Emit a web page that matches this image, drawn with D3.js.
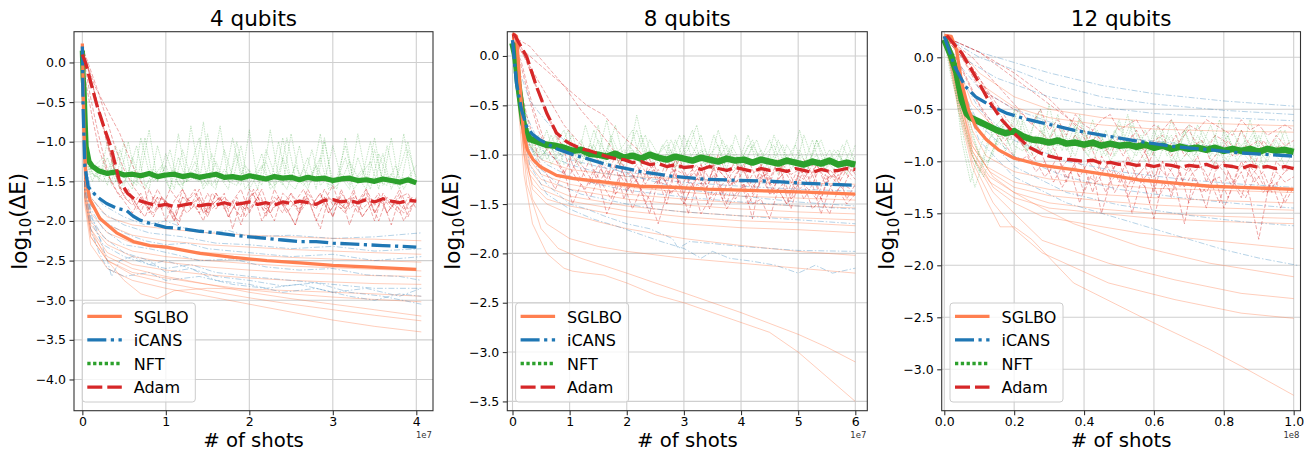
<!DOCTYPE html>
<html><head><meta charset="utf-8">
<script src="https://cdn.jsdelivr.net/npm/d3@7"></script>
<style>body{margin:0;background:#fff}svg{display:block}text{font-family:"DejaVu Sans",sans-serif}</style>
</head><body><svg id="c" width="1315" height="452"></svg>
<script>
// ---------------- DATA ----------------
const titles = ["4 qubits", "8 qubits", "12 qubits"];
const methods = ["SGLBO", "iCANS", "NFT", "Adam"];
const xTicks4 = [0, 1, 2, 3, 4];
const xTicks8 = [0, 1, 2, 3, 4, 5, 6];
const xTicks12 = [0, 0.2, 0.4, 0.6, 0.8, 1.0];
const yTicks4 = [0, -0.5, -1, -1.5, -2, -2.5, -3, -3.5, -4];
const yTicks8 = [0, -0.5, -1, -1.5, -2, -2.5, -3, -3.5];
const yTicks12 = [0, -0.5, -1, -1.5, -2, -2.5, -3];
const xOffsets = ["1e7", "1e7", "1e8"];

// shot grids (x in units of the offset) used by the noisy series; "b" grids sit half a step later
const grid4 = [0.2,0.3,0.4,0.5,0.6,0.7,0.8,0.9,1.0,1.1,1.2,1.3,1.4,1.5,1.6,1.7,1.8,1.9,2.0,2.1,2.2,2.3,2.4,2.5,2.6,2.7,2.8,2.9,3.0,3.1,3.2,3.3,3.4,3.5,3.6,3.7,3.8,3.9,4.0];
const grid4b = [0.25,0.35,0.45,0.55,0.65,0.75,0.85,0.95,1.05,1.15,1.25,1.35,1.45,1.55,1.65,1.75,1.85,1.95,2.05,2.15,2.25,2.35,2.45,2.55,2.65,2.75,2.85,2.95,3.05,3.15,3.25,3.35,3.45,3.55,3.65,3.75,3.85,3.95];
const grid8 = [0.3,0.45,0.6,0.75,0.9,1.05,1.2,1.35,1.5,1.65,1.8,1.95,2.1,2.25,2.4,2.55,2.7,2.85,3.0,3.15,3.3,3.45,3.6,3.75,3.9,4.05,4.2,4.35,4.5,4.65,4.8,4.95,5.1,5.25,5.4,5.55,5.7,5.85,6.0];
const grid8b = [0.375,0.525,0.675,0.825,0.975,1.125,1.275,1.425,1.575,1.725,1.875,2.025,2.175,2.325,2.475,2.625,2.775,2.925,3.075,3.225,3.375,3.525,3.675,3.825,3.975,4.125,4.275,4.425,4.575,4.725,4.875,5.025,5.175,5.325,5.475,5.625,5.775,5.925];
const grid12 = [0.05,0.075,0.1,0.125,0.15,0.175,0.2,0.225,0.25,0.275,0.3,0.325,0.35,0.375,0.4,0.425,0.45,0.475,0.5,0.525,0.55,0.575,0.6,0.625,0.65,0.675,0.7,0.725,0.75,0.775,0.8,0.825,0.85,0.875,0.9,0.925,0.95,0.975,1.0];
const grid12b = [0.0625,0.0875,0.1125,0.1375,0.1625,0.1875,0.2125,0.2375,0.2625,0.2875,0.3125,0.3375,0.3625,0.3875,0.4125,0.4375,0.4625,0.4875,0.5125,0.5375,0.5625,0.5875,0.6125,0.6375,0.6625,0.6875,0.7125,0.7375,0.7625,0.7875,0.8125,0.8375,0.8625,0.8875,0.9125,0.9375,0.9625,0.9875];

// ---- 4 qubits: mean curves ----
const sglbo4Mean = [[0,0.24],[0.01,-0.3],[0.02,-0.89],[0.044,-1.48],[0.09,-1.73],[0.21,-1.97],[0.41,-2.15],[0.61,-2.26],[0.81,-2.31],[1.01,-2.33],[1.41,-2.41],[1.81,-2.46],[2.21,-2.50],[2.61,-2.53],[3.0,-2.56],[3.4,-2.58],[4.0,-2.61]];
const icans4Mean = [[0,0.2],[0.01,-0.6],[0.03,-1.31],[0.07,-1.57],[0.17,-1.69],[0.29,-1.78],[0.41,-1.84],[0.53,-1.87],[0.61,-1.94],[0.69,-1.99],[0.81,-2.03],[1.0,-2.08],[1.2,-2.1],[1.41,-2.13],[1.6,-2.15],[1.81,-2.18],[2.0,-2.2],[2.2,-2.22],[2.4,-2.24],[2.6,-2.26],[2.8,-2.26],[3.0,-2.28],[3.2,-2.29],[3.4,-2.30],[3.6,-2.31],[3.8,-2.32],[4.0,-2.33]];
const nft4Mean = {h:[[0,0.15],[0.01,-0.2],[0.02,-0.34],[0.035,-0.8],[0.045,-1.06],[0.08,-1.25],[0.12,-1.31],[0.16,-1.34]],
  t:[-1.37,-1.40,-1.38,-1.42,-1.41,-1.43,-1.40,-1.44,-1.42,-1.41,-1.44,-1.42,-1.45,-1.43,-1.41,-1.45,-1.44,-1.46,-1.43,-1.45,-1.47,-1.44,-1.46,-1.45,-1.48,-1.45,-1.47,-1.46,-1.49,-1.47,-1.46,-1.49,-1.48,-1.50,-1.47,-1.49,-1.51,-1.48,-1.52]};
const adam4Mean = {h:[[0,0.1],[0.04,-0.01],[0.1,-0.25],[0.18,-0.56],[0.26,-0.82],[0.34,-1.06],[0.44,-1.48],[0.54,-1.65],[0.62,-1.72],[0.7,-1.75]],
  t:[-1.78,-1.81,-1.79,-1.82,-1.80,-1.78,-1.81,-1.79,-1.80,-1.77,-1.80,-1.78,-1.76,-1.79,-1.77,-1.80,-1.76,-1.78,-1.75,-1.77,-1.79,-1.74,-1.73,-1.76,-1.74,-1.77,-1.73,-1.76,-1.72,-1.75,-1.77,-1.74,-1.75]};
// ---- 4 qubits: individual runs ----
const sglbo4Runs = [
  [[0,0.2],[0.03,-1.3],[0.1,-1.7],[0.3,-1.95],[0.6,-2.05],[1.0,-2.1],[1.5,-2.15],[2.0,-2.18],[2.5,-2.2],[3.0,-2.22],[3.5,-2.23],[4.06,-2.25]],
  [[0,0.2],[0.03,-1.4],[0.1,-1.8],[0.3,-2.05],[0.6,-2.18],[1.0,-2.25],[1.5,-2.3],[2.0,-2.33],[2.5,-2.36],[3.0,-2.38],[3.5,-2.4],[4.06,-2.42]],
  [[0,0.2],[0.03,-1.5],[0.1,-1.9],[0.3,-2.15],[0.6,-2.28],[1.0,-2.35],[1.5,-2.4],[2.0,-2.43],[2.5,-2.46],[3.0,-2.48],[3.5,-2.5],[4.06,-2.52]],
  [[0,0.2],[0.03,-1.6],[0.1,-2.0],[0.3,-2.25],[0.6,-2.38],[1.0,-2.45],[1.5,-2.5],[2.0,-2.54],[2.5,-2.57],[3.0,-2.59],[3.5,-2.61],[4.06,-2.63]],
  [[0,0.2],[0.03,-1.55],[0.1,-2.05],[0.3,-2.3],[0.6,-2.45],[1.0,-2.52],[1.5,-2.58],[2.0,-2.62],[2.5,-2.65],[3.0,-2.67],[3.5,-2.69],[4.06,-2.7]],
  [[0,0.2],[0.03,-1.7],[0.1,-2.1],[0.3,-2.4],[0.6,-2.55],[1.0,-2.62],[1.5,-2.68],[2.0,-2.72],[2.5,-2.75],[3.0,-2.77],[3.5,-2.79],[4.06,-2.8]],
  [[0,0.2],[0.03,-1.6],[0.1,-2.1],[0.3,-2.5],[0.5,-2.75],[0.7,-2.92],[0.9,-2.98],[1.1,-2.88],[1.5,-2.85],[2.0,-2.86],[2.5,-2.88],[3.0,-2.9],[3.5,-2.92],[4.06,-2.95]],
  [[0,0.2],[0.03,-1.7],[0.1,-2.2],[0.3,-2.5],[0.6,-2.65],[1.0,-2.72],[1.5,-2.8],[2.0,-2.87],[2.5,-2.92],[3.0,-2.96],[3.5,-2.99],[4.06,-3.02]],
  [[0,0.2],[0.03,-1.65],[0.1,-2.15],[0.3,-2.45],[0.6,-2.6],[1.0,-2.7],[1.5,-2.8],[2.0,-2.9],[2.5,-2.98],[3.0,-3.05],[3.5,-3.12],[4.06,-3.2]],
  [[0,0.2],[0.03,-1.75],[0.1,-2.2],[0.3,-2.5],[0.6,-2.68],[1.0,-2.78],[1.5,-2.88],[2.0,-2.97],[2.5,-3.05],[3.0,-3.12],[3.5,-3.19],[4.06,-3.26]],
  [[0,0.2],[0.03,-1.8],[0.1,-2.3],[0.3,-2.6],[0.6,-2.75],[1.0,-2.85],[1.5,-2.95],[2.0,-3.05],[2.5,-3.15],[3.0,-3.25],[3.5,-3.33],[4.06,-3.4]]
];
const icans4Runs = [
  [[0,0.1],[0.03,-1.2],[0.1,-1.6],[0.25,-1.8],[0.5,-1.95],[0.75,-2.05],[1.0,-2.0],[1.25,-2.1],[1.5,-2.15],[1.75,-2.12],[2.0,-2.2],[2.5,-2.18],[3.0,-2.22],[3.5,-2.2],[4.06,-2.15]],
  [[0,0.1],[0.03,-1.4],[0.1,-1.8],[0.25,-2.0],[0.5,-2.15],[0.75,-2.25],[1.0,-2.3],[1.25,-2.28],[1.5,-2.35],[2.0,-2.4],[2.5,-2.45],[3.0,-2.42],[3.5,-2.5],[4.06,-2.45]],
  [[0,0.1],[0.03,-1.5],[0.1,-1.9],[0.2,-2.2],[0.3,-2.5],[0.35,-2.7],[0.45,-2.5],[0.6,-2.45],[0.8,-2.55],[1.0,-2.6],[1.3,-2.55],[1.6,-2.65],[2.0,-2.7],[2.5,-2.75],[3.0,-2.8],[3.5,-2.85],[4.06,-2.85]],
  [[0,0.1],[0.03,-1.6],[0.1,-2.0],[0.25,-2.3],[0.5,-2.45],[0.8,-2.55],[1.0,-2.5],[1.3,-2.6],[1.6,-2.7],[2.0,-2.75],[2.4,-2.82],[2.8,-2.78],[3.2,-2.9],[3.6,-2.95],[4.06,-3.05]],
  [[0,0.1],[0.03,-1.4],[0.1,-1.85],[0.25,-2.1],[0.5,-2.3],[0.8,-2.35],[1.1,-2.42],[1.4,-2.5],[1.8,-2.48],[2.2,-2.58],[2.6,-2.62],[3.0,-2.6],[3.4,-2.68],[3.8,-2.7],[4.06,-2.75]],
  [[0,0.1],[0.03,-1.5],[0.1,-1.95],[0.25,-2.2],[0.5,-2.4],[0.8,-2.5],[1.0,-2.65],[1.3,-2.6],[1.6,-2.75],[2.0,-2.8],[2.4,-2.9],[2.8,-2.85],[3.2,-2.95],[3.5,-3.0],[3.8,-2.92],[4.06,-2.95]],
  [[0,0.1],[0.03,-1.3],[0.1,-1.7],[0.25,-1.9],[0.5,-2.05],[0.8,-2.15],[1.2,-2.2],[1.6,-2.28],[2.0,-2.3],[2.5,-2.35],[3.0,-2.32],[3.5,-2.38],[4.06,-2.35]],
  [[0,0.1],[0.03,-1.7],[0.1,-2.1],[0.2,-2.4],[0.3,-2.6],[0.5,-2.7],[0.8,-2.65],[1.0,-2.75],[1.4,-2.7],[1.8,-2.8],[2.2,-2.85],[2.6,-2.8],[3.0,-2.9],[3.4,-2.85],[3.8,-2.95],[4.06,-2.85]]
];
const nft4Runs = [
  {h:[[0,0.2],[0.02,-0.5],[0.05,-1.2],[0.1,-1.4]], t:[-1.45,-1.2,-1.5,-1.0,-1.55,-1.4,-0.85,-1.5,-1.3,-1.6,-1.1,-1.45,-1.5,-0.9,-1.55,-1.35,-1.5,-1.05,-1.6,-1.4,-1.25,-1.55,-0.95,-1.5,-1.45,-1.2,-1.6,-1.0,-1.5,-1.4,-1.55,-0.9,-1.45,-1.5,-1.15,-1.6,-1.35,-1.0,-1.5]},
  {h:[[0,0.1],[0.02,-0.7],[0.06,-1.3],[0.12,-1.5]], t:[-1.3,-1.55,-1.05,-1.45,-1.6,-0.95,-1.4,-1.5,-1.15,-1.45,-1.6,-0.8,-1.4,-1.55,-1.25,-1.5,-0.95,-1.45,-1.35,-1.6,-1.1,-1.4,-1.55,-0.9,-1.45,-1.6,-1.3,-1.5,-1.05,-1.45,-1.6,-1.2,-1.5,-0.95,-1.55,-1.4,-1.6,-1.1,-1.45]},
  {h:[[0,0.2],[0.03,-0.9],[0.08,-1.35],[0.14,-1.3]], t:[-1.5,-1.0,-1.45,-1.55,-1.2,-1.5,-1.6,-1.05,-1.45,-1.35,-1.55,-1.3,-0.95,-1.5,-1.6,-1.1,-1.45,-1.55,-0.85,-1.5,-1.45,-1.6,-1.2,-1.5,-1.05,-1.55,-1.45,-0.95,-1.6,-1.5,-1.25,-1.45,-1.6,-1.1,-1.5,-0.95,-1.55,-1.45,-1.3]},
  {b:1, h:[[0,0.2],[0.03,-1.0],[0.08,-1.3],[0.15,-1.45]], t:[-1.35,-1.5,-1.1,-1.45,-1.55,-0.95,-1.5,-1.4,-1.6,-1.2,-1.5,-1.45,-0.75,-1.55,-1.4,-1.5,-1.15,-1.6,-1.45,-1.3,-1.55,-1.0,-1.5,-1.6,-1.35,-1.45,-0.9,-1.55,-1.5,-1.2,-1.6,-1.45,-1.0,-1.5,-1.55,-1.3,-1.6,-1.4]},
  {b:1, h:[[0,0.1],[0.02,-0.6],[0.06,-1.2],[0.12,-1.4]], t:[-1.5,-1.25,-1.6,-1.4,-1.05,-1.55,-1.45,-1.3,-1.6,-0.9,-1.5,-1.35,-1.55,-1.15,-1.45,-1.6,-1.0,-1.5,-1.4,-1.55,-0.85,-1.45,-1.6,-1.3,-1.5,-1.1,-1.55,-1.45,-1.6,-0.95,-1.5,-1.4,-1.25,-1.6,-1.05,-1.5,-1.45,-1.55]},
  {b:1, h:[[0,0.2],[0.04,-1.1],[0.1,-1.35]], t:[-1.2,-1.55,-1.45,-1.0,-1.5,-1.6,-1.35,-1.45,-1.1,-1.55,-1.5,-1.25,-1.6,-1.4,-0.8,-1.5,-1.55,-1.3,-1.45,-1.15,-1.6,-1.5,-0.95,-1.45,-1.55,-1.4,-1.2,-1.6,-1.45,-1.05,-1.5,-1.35,-1.6,-1.15,-1.45,-1.55,-0.9,-1.5]}
];
const adam4Runs = [
  {h:[[0,0.2],[0.1,-0.2],[0.2,-0.6],[0.3,-1.0],[0.4,-1.4],[0.5,-1.7]], t:[-1.8,-1.65,-1.9,-1.7,-2.0,-1.75,-1.6,-1.85,-1.7,-1.95,-1.65,-1.8,-1.75,-2.05,-1.7,-1.6,-1.85,-1.75,-1.9,-1.65,-1.8,-1.7,-2.0,-1.75,-1.55,-1.85,-1.7,-1.9,-1.6,-1.8,-1.75,-2.05,-1.7,-1.65,-1.85]},
  {h:[[0,0.15],[0.08,-0.1],[0.15,-0.4],[0.25,-0.8],[0.35,-1.2],[0.45,-1.6],[0.55,-1.75]], t:[-1.7,-1.9,-1.6,-1.85,-1.75,-2.0,-1.7,-1.8,-1.6,-1.9,-1.8,-1.65,-2.1,-1.75,-1.85,-1.7,-1.95,-1.6,-1.8,-1.75,-1.9,-1.65,-1.8,-1.7,-1.95,-1.6,-1.85,-1.75,-1.7,-2.0,-1.65,-1.8,-1.9,-1.7,-1.75]},
  {h:[[0,0.1],[0.05,0.0],[0.15,-0.3],[0.3,-0.6],[0.45,-0.9],[0.6,-1.3],[0.75,-1.6]], t:[-1.85,-1.7,-1.75,-1.95,-1.6,-1.8,-1.7,-1.9,-1.65,-1.85,-1.75,-1.6,-1.9,-1.7,-1.8,-2.0,-1.65,-1.75,-1.85,-1.6,-1.8,-1.7,-1.95,-1.65,-1.8,-1.75,-1.6,-1.9,-1.7,-1.85,-1.65,-1.95,-1.7]},
  {h:[[0,0.05],[0.05,-0.3],[0.12,-0.7],[0.2,-1.1],[0.3,-1.4],[0.4,-1.6]], t:[-1.75,-1.9,-1.7,-1.85,-1.6,-1.8,-2.0,-1.7,-1.75,-1.9,-1.65,-1.85,-1.7,-1.8,-1.95,-1.6,-1.75,-1.9,-1.7,-1.8,-1.65,-1.9,-1.75,-1.85,-1.6,-1.8,-1.7,-2.05,-1.75,-1.65,-1.9,-1.7,-1.8,-1.6,-1.85,-1.75]},
  {b:1, h:[[0,0.2],[0.06,-0.05],[0.14,-0.35],[0.22,-0.7],[0.3,-1.05],[0.38,-1.35],[0.46,-1.6]], t:[-1.65,-1.85,-1.75,-1.95,-1.7,-1.8,-2.05,-1.75,-1.6,-1.9,-1.8,-1.7,-1.95,-1.75,-1.85,-1.65,-2.0,-1.8,-1.7,-1.9,-1.75,-1.6,-1.85,-2.1,-1.7,-1.8,-1.9,-1.65,-1.85,-1.75,-2.0,-1.7,-1.8,-1.9,-1.7]},
  {b:1, h:[[0,0.15],[0.05,-0.15],[0.1,-0.45],[0.18,-0.85],[0.26,-1.2],[0.34,-1.5]], t:[-1.7,-1.6,-1.8,-1.95,-1.7,-1.85,-1.6,-1.75,-1.9,-1.8,-2.0,-1.65,-1.75,-1.85,-1.7,-1.95,-1.8,-1.6,-1.9,-1.75,-1.85,-2.05,-1.7,-1.8,-1.65,-1.9,-1.75,-1.85,-1.6,-1.95,-1.8,-1.7,-1.9,-1.75,-2.0,-1.8]},
  {b:1, h:[[0,0.2],[0.1,-0.1],[0.2,-0.4],[0.3,-0.75],[0.4,-1.1],[0.5,-1.35],[0.6,-1.55],[0.7,-1.7]], t:[-1.8,-1.9,-1.7,-1.85,-2.0,-1.75,-1.65,-1.9,-1.8,-1.7,-1.95,-1.75,-1.85,-1.6,-1.8,-1.9,-1.7,-1.85,-2.05,-1.75,-1.8,-1.65,-1.9,-1.75,-1.85,-1.7,-1.95,-1.8,-1.65,-1.9,-1.75,-1.85,-1.7]}
];

// ---- 8 qubits: mean curves ----
const sglbo8Mean = [[0,0.23],[0.07,0.2],[0.13,-0.28],[0.19,-0.78],[0.26,-0.95],[0.36,-1.05],[0.48,-1.12],[0.77,-1.21],[1.06,-1.24],[1.65,-1.28],[2.23,-1.32],[2.81,-1.33],[3.4,-1.35],[3.98,-1.36],[4.56,-1.37],[5.14,-1.38],[6.0,-1.40]];
const icans8Mean = [[0,0.16],[0.07,-0.28],[0.16,-0.55],[0.25,-0.72],[0.36,-0.80],[0.48,-0.85],[0.77,-0.94],[1.06,-1.0],[1.36,-1.05],[1.65,-1.10],[2.23,-1.17],[2.81,-1.22],[3.4,-1.25],[3.98,-1.26],[4.56,-1.27],[5.14,-1.29],[6.0,-1.31]];
const nft8Mean = {h:[[0,0.13],[0.05,0.0],[0.1,-0.28],[0.15,-0.5],[0.19,-0.68],[0.24,-0.78]],
  t:[-0.84,-0.87,-0.9,-0.91,-0.93,-0.96,-0.95,-0.99,-1.0,-1.02,-0.99,-1.03,-1.01,-1.04,-1.0,-1.03,-1.05,-1.02,-1.04,-1.06,-1.03,-1.05,-1.07,-1.04,-1.06,-1.05,-1.08,-1.05,-1.07,-1.09,-1.06,-1.08,-1.1,-1.07,-1.09,-1.06,-1.1,-1.08,-1.1]};
const adam8Mean = {h:[[0,0.22],[0.04,0.21],[0.25,-0.01],[0.42,-0.31],[0.6,-0.58],[0.77,-0.78],[0.95,-0.87]],
  t:[-0.9,-0.94,-0.96,-0.99,-1.02,-1.04,-1.05,-1.08,-1.07,-1.1,-1.09,-1.12,-1.1,-1.13,-1.12,-1.15,-1.12,-1.14,-1.16,-1.13,-1.15,-1.17,-1.14,-1.16,-1.15,-1.17,-1.14,-1.16,-1.18,-1.15,-1.17,-1.16,-1.14,-1.15]};
// ---- 8 qubits: individual runs ----
const sglbo8Runs = [
  [[0,0.22],[0.1,0.0],[0.2,-0.7],[0.3,-1.0],[0.5,-1.15],[1.0,-1.25],[2.0,-1.33],[3.0,-1.38],[4.0,-1.42],[5.0,-1.44],[6.0,-1.46]],
  [[0,0.22],[0.1,-0.1],[0.2,-0.8],[0.3,-1.05],[0.5,-1.2],[1.0,-1.3],[2.0,-1.4],[3.0,-1.45],[4.0,-1.49],[5.0,-1.52],[6.0,-1.54]],
  [[0,0.22],[0.1,-0.1],[0.2,-0.85],[0.3,-1.1],[0.5,-1.25],[1.0,-1.35],[2.0,-1.45],[3.0,-1.51],[4.0,-1.55],[5.0,-1.58],[6.0,-1.6]],
  [[0,0.22],[0.1,-0.15],[0.2,-0.9],[0.3,-1.15],[0.5,-1.3],[1.0,-1.42],[2.0,-1.52],[3.0,-1.58],[4.0,-1.62],[5.0,-1.64],[6.0,-1.66]],
  [[0,0.22],[0.1,-0.15],[0.2,-0.95],[0.3,-1.2],[0.5,-1.35],[1.0,-1.47],[2.0,-1.57],[3.0,-1.63],[4.0,-1.67],[5.0,-1.69],[6.0,-1.72]],
  [[0,0.22],[0.1,-0.2],[0.2,-1.0],[0.35,-1.3],[0.6,-1.45],[1.0,-1.52],[2.0,-1.63],[3.0,-1.7],[4.0,-1.74],[5.0,-1.76],[6.0,-1.79]],
  [[0,0.22],[0.1,-0.2],[0.2,-0.9],[0.35,-1.35],[0.6,-1.5],[1.0,-1.6],[1.5,-1.68],[2.0,-1.75],[3.0,-1.85],[4.0,-1.92],[5.0,-1.98],[6.0,-2.02]],
  [[0,0.22],[0.1,-0.3],[0.2,-1.0],[0.35,-1.45],[0.6,-1.7],[1.0,-1.85],[1.5,-1.93],[2.0,-1.98],[3.0,-2.05],[4.0,-2.1],[5.0,-2.15],[6.0,-2.2]],
  [[0,0.22],[0.1,-0.4],[0.25,-1.3],[0.5,-1.75],[0.8,-1.95],[1.2,-2.05],[2.0,-2.2],[3.0,-2.4],[4.0,-2.6],[5.0,-2.82],[5.5,-2.95],[6.0,-3.1]],
  [[0,0.22],[0.1,-0.5],[0.2,-1.2],[0.35,-1.7],[0.6,-2.0],[0.9,-2.15],[1.05,-2.18],[1.3,-2.2],[1.6,-2.22],[2.0,-2.3],[2.5,-2.42],[3.0,-2.5],[3.5,-2.6],[4.0,-2.7],[4.5,-2.8],[5.0,-3.0],[5.5,-3.25],[6.0,-3.5]],
  [[0,0.2],[0.15,-0.4],[0.3,-0.9],[0.5,-1.05],[1.0,-1.15],[2.0,-1.22],[4.0,-1.27],[6.0,-1.3]]
];
const icans8Runs = [
  [[0,0.15],[0.1,-0.3],[0.2,-0.6],[0.35,-0.85],[0.6,-1.0],[1.0,-1.1],[1.5,-1.18],[2.0,-1.22],[3.0,-1.28],[4.0,-1.32],[5.0,-1.35],[6.0,-1.37]],
  [[0,0.1],[0.1,-0.35],[0.2,-0.7],[0.35,-0.95],[0.6,-1.1],[1.0,-1.22],[1.5,-1.3],[2.0,-1.36],[3.0,-1.43],[4.0,-1.48],[5.0,-1.52],[6.0,-1.55]],
  [[0,0.1],[0.1,-0.4],[0.25,-0.85],[0.5,-1.15],[0.8,-1.3],[1.2,-1.4],[1.6,-1.45],[2.0,-1.5],[2.5,-1.55],[3.0,-1.58],[4.0,-1.62],[5.0,-1.66],[6.0,-1.7]],
  [[0,0.1],[0.1,-0.4],[0.3,-1.0],[0.6,-1.3],[1.0,-1.5],[1.3,-1.55],[1.6,-1.62],[2.0,-1.7],[2.4,-1.75],[2.8,-1.85],[2.9,-1.95],[3.1,-1.88],[3.5,-1.9],[4.0,-1.93],[4.5,-1.95],[5.0,-1.97],[6.0,-1.98]],
  [[0,0.1],[0.1,-0.45],[0.3,-1.1],[0.6,-1.4],[1.0,-1.55],[1.4,-1.65],[1.8,-1.72],[2.2,-1.8],[2.6,-1.88],[3.0,-1.95],[3.3,-2.05],[3.5,-1.98],[3.8,-2.05],[4.2,-2.08],[4.6,-2.12],[5.0,-2.2],[5.3,-2.12],[5.6,-2.2],[6.0,-2.15]],
  [[0,0.15],[0.1,-0.25],[0.2,-0.55],[0.4,-0.8],[0.7,-0.95],[1.0,-1.05],[1.5,-1.12],[2.0,-1.18],[3.0,-1.24],[4.0,-1.28],[5.0,-1.3],[6.0,-1.32]],
  [[0,0.1],[0.15,-0.2],[0.3,-0.45],[0.5,-0.6],[0.8,-0.8],[1.2,-1.0],[2.0,-1.2],[3.0,-1.35],[4.0,-1.42],[5.0,-1.48],[6.0,-1.52]]
];
const nft8Runs = [
  {h:[[0,0.15],[0.1,-0.2],[0.2,-0.6]], t:[-0.95,-0.8,-1.05,-0.9,-0.75,-1.0,-0.95,-1.1,-0.85,-1.0,-0.7,-1.05,-0.95,-1.1,-0.85,-1.0,-0.9,-1.15,-0.8,-1.05,-0.95,-1.1,-0.75,-1.05,-1.0,-1.15,-0.9,-1.05,-0.85,-1.1,-1.0,-1.15,-0.8,-1.05,-1.1,-0.95,-1.15,-0.85,-1.1]},
  {h:[[0,0.1],[0.1,-0.3],[0.2,-0.7]], t:[-0.85,-1.0,-0.75,-1.05,-0.95,-0.8,-1.1,-0.9,-1.0,-0.65,-1.05,-0.95,-1.1,-0.8,-1.05,-1.0,-0.85,-1.1,-0.95,-0.75,-1.1,-1.0,-0.9,-1.15,-0.8,-1.05,-1.1,-0.95,-1.15,-0.85,-1.05,-0.9,-1.15,-1.0,-0.85,-1.1,-1.0,-1.15,-0.9]},
  {h:[[0,0.15],[0.1,-0.25],[0.2,-0.65]], t:[-0.9,-1.05,-0.95,-0.8,-1.1,-1.0,-0.85,-1.05,-0.7,-1.1,-1.0,-0.9,-0.75,-1.1,-0.95,-1.05,-1.15,-0.85,-1.05,-1.0,-0.8,-1.1,-1.05,-0.9,-1.15,-1.0,-0.85,-1.1,-1.0,-1.2,-0.9,-1.05,-1.1,-0.85,-1.15,-1.05,-0.95,-1.2,-1.0]},
  {b:1, h:[[0,0.1],[0.1,-0.35],[0.25,-0.75]], t:[-0.9,-1.05,-0.8,-1.0,-0.95,-1.1,-0.7,-1.0,-1.05,-0.85,-1.1,-0.95,-0.75,-1.05,-1.0,-1.1,-0.85,-1.05,-0.95,-0.7,-1.1,-1.0,-1.15,-0.9,-1.05,-0.8,-1.1,-1.0,-0.9,-1.15,-1.05,-0.75,-1.1,-1.0,-1.15,-0.95,-1.05,-1.1]},
  {b:1, h:[[0,0.15],[0.12,-0.3],[0.28,-0.7]], t:[-1.0,-0.85,-1.1,-0.95,-0.75,-1.05,-1.0,-0.9,-1.1,-0.8,-1.0,-1.05,-0.6,-1.0,-1.1,-0.9,-1.05,-0.8,-1.1,-1.0,-0.95,-1.15,-0.85,-1.05,-1.1,-0.9,-1.0,-1.15,-0.8,-1.05,-1.1,-0.95,-1.15,-0.85,-1.05,-1.15,-0.9,-1.1]},
  {b:1, h:[[0,0.1],[0.08,-0.4],[0.2,-0.8]], t:[-0.8,-1.0,-0.9,-1.1,-0.85,-0.95,-1.05,-0.75,-1.0,-0.95,-1.1,-0.9,-1.0,-0.8,-1.1,-1.05,-0.95,-1.15,-0.85,-1.0,-1.1,-0.8,-1.05,-0.95,-1.15,-1.0,-0.85,-1.1,-1.05,-0.9,-1.15,-1.0,-1.1,-0.85,-1.15,-1.05,-1.1,-0.95]}
];
const adam8Runs = [
  {h:[[0,0.2],[0.2,0.05],[0.4,-0.3],[0.6,-0.6],[0.8,-0.85],[1.0,-1.0]], t:[-1.1,-1.25,-1.05,-1.3,-1.15,-1.4,-1.1,-1.2,-1.35,-1.05,-1.25,-1.5,-1.15,-1.2,-1.3,-1.1,-1.45,-1.15,-1.25,-1.05,-1.35,-1.2,-1.1,-1.4,-1.25,-1.15,-1.3,-1.05,-1.2,-1.45,-1.15,-1.25,-1.1,-1.2]},
  {h:[[0,0.15],[0.1,0.1],[0.3,-0.1],[0.6,-0.4],[0.9,-0.7],[1.2,-0.9],[1.5,-1.05]], t:[-1.3,-1.1,-1.45,-1.2,-1.35,-1.6,-1.25,-1.4,-1.15,-1.5,-1.3,-1.2,-1.55,-1.35,-1.25,-1.45,-1.3,-1.65,-1.2,-1.4,-1.35,-1.5,-1.25,-1.45,-1.3,-1.6,-1.35,-1.2,-1.45,-1.3]},
  {h:[[0,0.2],[0.15,-0.1],[0.3,-0.45],[0.45,-0.75],[0.6,-0.95]], t:[-1.05,-1.2,-1.0,-1.15,-1.3,-1.1,-1.25,-1.0,-1.2,-1.4,-1.1,-1.25,-1.15,-1.3,-1.05,-1.2,-1.35,-1.1,-1.25,-1.0,-1.2,-1.3,-1.15,-1.4,-1.1,-1.25,-1.05,-1.2,-1.35,-1.15,-1.3,-1.1,-1.2,-1.25,-1.05,-1.2]},
  {h:[[0,0.15],[0.3,0.0],[0.7,-0.2],[1.0,-0.35],[1.3,-0.5],[1.6,-0.6],[1.9,-0.8],[2.2,-0.95]], t:[-1.1,-1.3,-1.05,-1.2,-1.4,-1.15,-1.3,-1.0,-1.25,-1.5,-1.2,-1.1,-1.35,-1.15,-1.3,-1.05,-1.4,-1.2,-1.25,-1.1,-1.45,-1.2,-1.3,-1.15,-1.25]},
  {h:[[0,0.1],[0.1,-0.2],[0.25,-0.6],[0.4,-0.9]], t:[-1.05,-1.2,-1.35,-1.15,-1.5,-1.3,-1.45,-1.25,-1.6,-1.4,-1.3,-1.55,-1.35,-1.45,-1.7,-1.4,-1.35,-1.5,-1.3,-1.6,-1.45,-1.35,-1.55,-1.4,-1.3,-1.5,-1.45,-1.65,-1.35,-1.5,-1.4,-1.3,-1.55,-1.45,-1.6,-1.35,-1.5,-1.4]},
  {b:1, h:[[0,0.2],[0.2,0.0],[0.45,-0.35],[0.7,-0.7],[0.9,-0.95]], t:[-1.1,-1.25,-1.35,-1.15,-1.3,-1.45,-1.2,-1.35,-1.25,-1.5,-1.3,-1.2,-1.4,-1.25,-1.6,-1.3,-1.35,-1.2,-1.45,-1.3,-1.25,-1.5,-1.35,-1.2,-1.4,-1.3,-1.55,-1.25,-1.35,-1.45,-1.2,-1.4,-1.3,-1.35]},
  {b:1, h:[[0,0.2],[0.3,0.1],[0.6,-0.1],[0.9,-0.3],[1.2,-0.55],[1.5,-0.75],[1.7,-0.9]], t:[-1.05,-1.2,-1.1,-1.3,-1.15,-1.25,-1.05,-1.35,-1.2,-1.1,-1.3,-1.15,-1.4,-1.2,-1.1,-1.25,-1.35,-1.15,-1.3,-1.2,-1.45,-1.15,-1.25,-1.1,-1.3,-1.2,-1.35,-1.15]},
  {b:1, h:[[0,0.15],[0.15,-0.05],[0.35,-0.5],[0.55,-0.85]], t:[-1.0,-1.1,-1.25,-1.05,-1.15,-1.3,-1.1,-1.2,-1.05,-1.35,-1.15,-1.2,-1.1,-1.3,-1.2,-1.05,-1.25,-1.15,-1.4,-1.1,-1.2,-1.3,-1.15,-1.05,-1.25,-1.2,-1.35,-1.1,-1.2,-1.15,-1.3,-1.1,-1.25,-1.2,-1.15,-1.25]}
];

// ---- 12 qubits: mean curves ----
const sglbo12Mean = [[0,0.21],[0.02,0.2],[0.035,0.07],[0.05,-0.25],[0.07,-0.51],[0.09,-0.67],[0.12,-0.79],[0.155,-0.89],[0.2,-0.97],[0.28,-1.04],[0.37,-1.08],[0.47,-1.13],[0.56,-1.18],[0.66,-1.21],[0.76,-1.24],[0.85,-1.25],[1.0,-1.27]];
const icans12Mean = [[0,0.2],[0.03,-0.09],[0.06,-0.28],[0.09,-0.38],[0.135,-0.47],[0.18,-0.54],[0.23,-0.59],[0.28,-0.63],[0.37,-0.70],[0.47,-0.76],[0.56,-0.81],[0.66,-0.86],[0.76,-0.89],[0.85,-0.92],[1.0,-0.95]];
const nft12Mean = {h:[[0,0.17],[0.02,0.01],[0.035,-0.15],[0.05,-0.41],[0.064,-0.54]],
  t:[-0.58,-0.62,-0.66,-0.70,-0.73,-0.71,-0.76,-0.79,-0.8,-0.82,-0.8,-0.83,-0.82,-0.84,-0.82,-0.85,-0.83,-0.85,-0.84,-0.86,-0.84,-0.87,-0.85,-0.88,-0.86,-0.88,-0.87,-0.89,-0.87,-0.9,-0.88,-0.9,-0.88,-0.91,-0.88,-0.9,-0.89,-0.91]};
const adam12Mean = {h:[[0.007,0.21],[0.05,0.04],[0.09,-0.19],[0.126,-0.41],[0.164,-0.6],[0.2,-0.73],[0.24,-0.86]],
  t:[-0.92,-0.95,-0.97,-0.98,-0.99,-1.0,-0.99,-1.02,-1.01,-1.03,-1.02,-1.04,-1.03,-1.05,-1.03,-1.04,-1.06,-1.04,-1.05,-1.03,-1.06,-1.04,-1.05,-1.07,-1.04,-1.06,-1.05,-1.07,-1.05,-1.07]};
// ---- 12 qubits: individual runs ----
const sglbo12Runs = [
  [[0,0.2],[0.05,0.05],[0.1,-0.15],[0.2,-0.38],[0.3,-0.5],[0.45,-0.58],[0.6,-0.62],[0.8,-0.64],[1.0,-0.66]],
  [[0,0.2],[0.05,0.0],[0.1,-0.25],[0.2,-0.48],[0.3,-0.58],[0.45,-0.65],[0.6,-0.69],[0.8,-0.71],[1.0,-0.72]],
  [[0,0.2],[0.04,-0.1],[0.08,-0.45],[0.15,-0.7],[0.25,-0.8],[0.4,-0.85],[0.6,-0.88],[0.8,-0.89],[1.0,-0.9]],
  [[0,0.2],[0.04,-0.2],[0.08,-0.7],[0.12,-0.95],[0.2,-1.1],[0.3,-1.17],[0.45,-1.22],[0.6,-1.26],[0.8,-1.28],[1.0,-1.3]],
  [[0,0.2],[0.04,-0.25],[0.08,-0.8],[0.12,-1.05],[0.2,-1.2],[0.3,-1.27],[0.45,-1.32],[0.6,-1.35],[0.8,-1.38],[1.0,-1.4]],
  [[0,0.2],[0.04,-0.3],[0.08,-0.85],[0.13,-1.1],[0.2,-1.25],[0.3,-1.33],[0.45,-1.38],[0.6,-1.42],[0.8,-1.45],[1.0,-1.47]],
  [[0,0.2],[0.04,-0.35],[0.08,-0.9],[0.13,-1.15],[0.2,-1.3],[0.3,-1.4],[0.45,-1.46],[0.6,-1.5],[0.8,-1.53],[1.0,-1.55]],
  [[0,0.2],[0.04,-0.4],[0.08,-0.95],[0.13,-1.2],[0.2,-1.35],[0.3,-1.45],[0.45,-1.5],[0.6,-1.55],[0.8,-1.58],[1.0,-1.6]],
  [[0,0.2],[0.04,-0.3],[0.08,-0.9],[0.14,-1.25],[0.2,-1.4],[0.28,-1.53],[0.4,-1.6],[0.56,-1.69],[0.76,-1.76],[1.0,-1.84]],
  [[0,0.2],[0.04,-0.35],[0.08,-0.85],[0.14,-1.15],[0.2,-1.3],[0.28,-1.45],[0.37,-1.6],[0.56,-1.82],[0.76,-1.98],[1.0,-2.11]],
  [[0,0.2],[0.04,-0.4],[0.08,-0.95],[0.14,-1.3],[0.2,-1.5],[0.28,-1.76],[0.47,-1.98],[0.66,-2.14],[0.85,-2.27],[1.0,-2.32]],
  [[0,0.2],[0.04,-0.45],[0.08,-1.0],[0.14,-1.4],[0.2,-1.65],[0.28,-1.88],[0.47,-2.17],[0.66,-2.33],[0.85,-2.46],[1.0,-2.51]],
  [[0,0.2],[0.04,-0.5],[0.08,-1.05],[0.12,-1.37],[0.16,-1.63],[0.2,-1.63],[0.25,-1.75],[0.37,-2.17],[0.56,-2.49],[0.76,-2.81],[0.85,-2.97],[1.0,-3.25]]
];
const icans12Runs = [
  [[0,0.2],[0.1,0.05],[0.2,-0.05],[0.3,-0.15],[0.45,-0.27],[0.6,-0.35],[0.8,-0.42],[1.0,-0.47]],
  [[0,0.2],[0.1,0.0],[0.2,-0.12],[0.3,-0.25],[0.45,-0.38],[0.6,-0.45],[0.8,-0.51],[1.0,-0.55]],
  [[0,0.2],[0.05,0.0],[0.15,-0.2],[0.3,-0.38],[0.45,-0.48],[0.6,-0.54],[0.8,-0.58],[1.0,-0.61]],
  [[0,0.2],[0.05,-0.1],[0.1,-0.3],[0.2,-0.5],[0.35,-0.68],[0.5,-0.77],[0.7,-0.84],[0.85,-0.87],[1.0,-0.9]],
  [[0,0.2],[0.05,-0.2],[0.1,-0.5],[0.2,-0.8],[0.35,-1.0],[0.5,-1.1],[0.7,-1.18],[0.85,-1.22],[1.0,-1.25]],
  [[0,0.2],[0.05,-0.3],[0.1,-0.65],[0.2,-0.95],[0.35,-1.15],[0.5,-1.27],[0.7,-1.36],[0.85,-1.41],[1.0,-1.45]],
  [[0,0.2],[0.05,-0.3],[0.1,-0.7],[0.2,-1.05],[0.35,-1.3],[0.5,-1.42],[0.7,-1.52],[0.85,-1.58],[1.0,-1.62]],
  [[0,0.2],[0.05,-0.35],[0.1,-0.8],[0.2,-1.15],[0.35,-1.4],[0.5,-1.55],[0.65,-1.7],[0.8,-1.85],[0.9,-1.93],[1.01,-2.0]]
];
const nft12Runs = [
  {h:[[0,0.2],[0.02,0.0]], t:[-0.6,-0.9,-1.1,-0.8,-0.7,-0.9,-0.5,-0.85,-0.95,-0.7,-0.8,-0.55,-0.9,-0.75,-0.85,-0.6,-0.95,-0.8,-0.65,-0.9,-0.85,-1.0,-0.7,-0.9,-0.6,-0.85,-0.95,-0.75,-0.9,-1.05,-0.7,-0.85,-0.95,-0.6,-0.9,-1.0,-0.8,-0.95,-0.85]},
  {h:[[0,0.15],[0.025,-0.1]], t:[-0.8,-1.2,-0.9,-0.65,-0.85,-0.75,-0.95,-0.6,-0.8,-0.9,-0.45,-0.85,-0.8,-0.95,-0.7,-0.9,-0.75,-1.0,-0.85,-0.55,-0.9,-0.8,-0.95,-0.7,-1.0,-0.85,-0.65,-0.95,-0.85,-0.75,-1.0,-0.9,-0.7,-0.95,-1.05,-0.8,-0.9,-0.7,-0.95]},
  {h:[[0,0.2],[0.03,-0.05]], t:[-0.4,-0.7,-0.95,-1.0,-0.8,-0.6,-0.85,-0.9,-0.7,-0.5,-0.95,-0.75,-0.85,-0.65,-0.9,-1.0,-0.8,-0.9,-0.6,-0.85,-0.95,-0.7,-0.9,-0.85,-0.75,-1.0,-0.9,-0.65,-0.85,-0.95,-0.8,-0.7,-0.9,-1.0,-0.75,-0.95,-0.85,-1.05,-0.9]},
  {b:1, h:[[0,0.2],[0.03,-0.3]], t:[-0.9,-1.25,-1.0,-0.7,-0.6,-0.85,-0.75,-0.9,-0.55,-0.8,-0.95,-0.7,-0.85,-0.6,-0.9,-0.8,-0.95,-0.7,-0.85,-1.0,-0.75,-0.9,-0.65,-0.95,-0.8,-0.9,-1.0,-0.7,-0.85,-0.95,-0.75,-1.0,-0.85,-0.7,-0.95,-0.9,-1.0,-0.8]},
  {b:1, h:[[0,0.15],[0.02,-0.2]], t:[-0.7,-1.0,-1.15,-0.9,-0.75,-0.7,-0.5,-0.8,-0.9,-0.65,-0.85,-0.75,-0.95,-0.55,-0.85,-0.9,-0.7,-0.95,-0.8,-0.6,-0.9,-0.85,-1.0,-0.75,-0.9,-0.7,-0.95,-0.85,-0.65,-0.9,-1.0,-0.8,-0.9,-0.75,-1.05,-0.85,-0.7,-0.95]},
  {b:1, h:[[0,0.2],[0.03,-0.15]], t:[-0.5,-0.8,-1.05,-0.95,-0.65,-0.8,-0.6,-0.9,-0.75,-0.85,-0.7,-0.9,-0.6,-0.8,-0.95,-0.7,-0.85,-0.75,-0.9,-0.65,-0.8,-0.95,-0.75,-0.85,-1.0,-0.7,-0.9,-0.8,-0.95,-0.6,-0.85,-0.9,-0.8,-1.0,-0.7,-0.9,-0.85,-0.95]}
];
const adam12Runs = [
  {h:[[0,0.2],[0.05,0.05],[0.1,-0.2],[0.15,-0.5],[0.2,-0.75]], t:[-0.85,-1.0,-0.9,-1.1,-0.95,-1.2,-1.0,-1.05,-1.3,-0.95,-1.1,-1.0,-1.25,-1.05,-0.9,-1.15,-1.0,-1.35,-1.05,-1.1,-0.95,-1.2,-1.0,-1.1,-1.25,-1.0,-1.15,-1.05,-1.3,-1.0,-1.1,-1.05]},
  {h:[[0,0.2],[0.08,0.0],[0.16,-0.3],[0.24,-0.6],[0.3,-0.8]], t:[-0.95,-1.15,-1.05,-1.3,-1.1,-1.5,-1.2,-1.1,-1.35,-1.15,-1.25,-1.55,-1.2,-1.3,-1.1,-1.4,-1.2,-1.3,-1.15,-1.45,-1.25,-1.1,-1.35,-1.75,-1.3,-1.2,-1.4,-1.25]},
  {h:[[0,0.15],[0.05,-0.1],[0.1,-0.45],[0.15,-0.7]], t:[-0.8,-0.7,-0.85,-0.75,-0.9,-0.8,-0.65,-0.85,-0.75,-0.9,-0.7,-0.8,-0.95,-0.75,-0.85,-0.7,-0.9,-0.8,-0.75,-0.95,-0.8,-0.7,-0.85,-0.9,-0.75,-0.8,-0.95,-0.7,-0.85,-0.8,-0.9,-0.75,-0.85,-0.8]},
  {h:[[0,0.2],[0.1,0.05],[0.2,-0.2],[0.3,-0.45],[0.4,-0.7]], t:[-0.9,-1.1,-1.0,-1.2,-0.95,-1.15,-1.05,-1.3,-1.0,-1.1,-1.25,-1.05,-1.2,-1.45,-1.1,-1.0,-1.2,-1.35,-1.05,-1.15,-1.3,-1.1,-1.2,-1.15]},
  {h:[[0,0.2],[0.05,0.0],[0.1,-0.3],[0.2,-0.5]], t:[-0.55,-0.65,-0.5,-0.7,-0.6,-0.75,-0.55,-0.65,-0.7,-0.6,-0.55,-0.7,-0.65,-0.6,-0.75,-0.65,-0.7,-0.6,-0.75,-0.65,-0.7,-0.6,-0.65,-0.7,-0.75,-0.6,-0.7,-0.65,-0.75,-0.7,-0.65,-0.7]},
  {b:1, h:[[0,0.2],[0.06,0.0],[0.12,-0.3],[0.18,-0.6],[0.24,-0.85]], t:[-1.0,-1.15,-1.05,-1.25,-1.1,-1.4,-1.15,-1.2,-1.05,-1.3,-1.15,-1.5,-1.2,-1.1,-1.35,-1.2,-1.25,-1.6,-1.15,-1.3,-1.2,-1.4,-1.1,-1.25,-1.35,-1.15,-1.3,-1.2,-1.45,-1.25]},
  {b:1, h:[[0,0.2],[0.1,0.05],[0.2,-0.15],[0.3,-0.4],[0.36,-0.6]], t:[-0.7,-0.85,-0.75,-0.9,-0.8,-0.95,-0.75,-0.85,-1.0,-0.8,-0.9,-0.75,-0.95,-0.85,-0.8,-1.0,-0.9,-0.8,-0.95,-0.85,-1.05,-0.8,-0.9,-0.85,-0.95]},
  {b:1, h:[[0,0.2],[0.04,-0.05],[0.09,-0.4],[0.14,-0.7]], t:[-0.9,-1.0,-0.95,-1.1,-1.0,-1.2,-1.05,-0.95,-1.15,-1.0,-1.1,-1.3,-1.05,-1.0,-1.2,-1.1,-1.4,-1.05,-1.15,-1.0,-1.25,-1.1,-1.05,-1.2,-1.15,-1.35,-1.1,-1.0,-1.2,-1.1,-1.3,-1.15,-1.05]}
];

// ---------------- LAYOUT / STYLE ----------------
const colors = {SGLBO:"#ff7f50", iCANS:"#1f77b4", NFT:"#2ca02c", Adam:"#d62728"};
const meanDash = {SGLBO:null, iCANS:"19,4.5,3.2,4.5", NFT:"3.3,2.5", Adam:"15,5"};
const thinDash = {SGLBO:null, iCANS:"6,2,1.5,2", NFT:"1.6,1.0", Adam:"4,1.8"};
const thinAlpha = {SGLBO:0.38, iCANS:0.32, NFT:0.26, Adam:0.4};

const panels = [
  {title:titles[0], rect:[74,31.7,433,410.7], xd:[-0.1,4.2], yd:[0.388,-4.394], xt:xTicks4, yt:yTicks4, xfmt:d3.format("d"), off:xOffsets[0], grids:[grid4, grid4b],
   mean:{SGLBO:sglbo4Mean, iCANS:icans4Mean, NFT:nft4Mean, Adam:adam4Mean}, runs:{SGLBO:sglbo4Runs, iCANS:icans4Runs, NFT:nft4Runs, Adam:adam4Runs}},
  {title:titles[1], rect:[507.3,31.7,867.3,410.7], xd:[-0.091,6.21], yd:[0.246,-3.594], xt:xTicks8, yt:yTicks8, xfmt:d3.format("d"), off:xOffsets[1], grids:[grid8, grid8b],
   mean:{SGLBO:sglbo8Mean, iCANS:icans8Mean, NFT:nft8Mean, Adam:adam8Mean}, runs:{SGLBO:sglbo8Runs, iCANS:icans8Runs, NFT:nft8Runs, Adam:adam8Runs}},
  {title:titles[2], rect:[941.7,31.7,1300.5,410.7], xd:[-0.0074,1.0195], yd:[0.246,-3.398], xt:xTicks12, yt:yTicks12, xfmt:d3.format(".1f"), off:xOffsets[2], grids:[grid12, grid12b],
   mean:{SGLBO:sglbo12Mean, iCANS:icans12Mean, NFT:nft12Mean, Adam:adam12Mean}, runs:{SGLBO:sglbo12Runs, iCANS:icans12Runs, NFT:nft12Runs, Adam:adam12Runs}}
];

// combine head points with tail values placed on the last points of the run's shot grid
function pts(s, grids) {
  if (Array.isArray(s)) return s;
  const grid = grids[s.b ? 1 : 0];
  const n = Math.min(s.t.length, grid.length);
  const g = grid.slice(grid.length - n);
  return s.h.concat(g.map((x, i) => [x, s.t[s.t.length - n + i]]));
}
const minus = s => s.replace(/-/g, "\u2212");

const svg = d3.select("#c");
svg.append("rect").attr("width",1315).attr("height",452).attr("fill","#fff");

panels.forEach((p, pi) => {
  const [L, T, R, B] = p.rect;
  const x = d3.scaleLinear().domain(p.xd).range([L, R]);
  const y = d3.scaleLinear().domain(p.yd).range([T, B]);
  const g = svg.append("g");
  const cid = "clip" + pi;
  svg.append("clipPath").attr("id", cid).append("rect").attr("x", L).attr("y", T).attr("width", R - L).attr("height", B - T);

  // grid
  const gg = g.append("g").attr("stroke", "#cfcfcf").attr("stroke-width", 1.1);
  p.xt.forEach(v => gg.append("line").attr("x1", x(v)).attr("x2", x(v)).attr("y1", T).attr("y2", B));
  p.yt.forEach(v => gg.append("line").attr("x1", L).attr("x2", R).attr("y1", y(v)).attr("y2", y(v)));

  const line = d3.line().x(d => x(d[0])).y(d => y(d[1]));
  const plot = g.append("g").attr("clip-path", `url(#${cid})`);

  // thin individual runs
  ["SGLBO", "iCANS", "NFT", "Adam"].forEach(m => {
    p.runs[m].forEach(r => {
      plot.append("path").attr("d", line(pts(r, p.grids))).attr("fill", "none")
        .attr("stroke", colors[m]).attr("stroke-opacity", thinAlpha[m]).attr("stroke-width", 1)
        .attr("stroke-dasharray", thinDash[m]).attr("stroke-linejoin", "round");
    });
  });
  // mean curves
  ["NFT", "SGLBO", "iCANS", "Adam"].forEach(m => {
    const d = line(pts(p.mean[m], p.grids));
    if (m === "NFT") {
      plot.append("path").attr("d", d).attr("fill", "none").attr("stroke", colors[m])
        .attr("stroke-width", pi === 0 ? 5.2 : 6.5).attr("stroke-linejoin", "round");
    } else {
      plot.append("path").attr("d", d).attr("fill", "none").attr("stroke", colors[m])
        .attr("stroke-width", 3.3).attr("stroke-dasharray", meanDash[m]).attr("stroke-linejoin", "round");
    }
  });

  // spines
  g.append("rect").attr("x", L).attr("y", T).attr("width", R - L).attr("height", B - T)
    .attr("fill", "none").attr("stroke", "#333").attr("stroke-width", 1.1);

  // axes
  const xa = d3.axisBottom(x).tickValues(p.xt).tickFormat(p.xfmt).tickSize(4.5).tickPadding(2);
  const xg = g.append("g").attr("transform", `translate(0,${B})`).call(xa);
  const ya = d3.axisLeft(y).tickValues(p.yt).tickFormat(v => minus(d3.format(".1f")(v))).tickSize(4.5).tickPadding(3.5);
  const yg = g.append("g").attr("transform", `translate(${L},0)`).call(ya);
  [xg, yg].forEach(a => {
    a.select(".domain").remove();
    a.selectAll(".tick line").attr("stroke", "#333").attr("stroke-width", 1.1);
    a.selectAll(".tick text").attr("fill", "#000").style("font-size", "12.5px").style("font-family", "DejaVu Sans");
  });

  // title and labels
  const cx = (L + R) / 2, cy = (T + B) / 2;
  g.append("text").attr("x", cx).attr("y", 26).attr("text-anchor", "middle").style("font-size", "21.5px").text(p.title);
  g.append("text").attr("x", cx).attr("y", 447.3).attr("text-anchor", "middle").style("font-size", "19.7px").text("# of shots");
  const yl = g.append("text").attr("transform", `translate(${L - 47.5},${cy}) rotate(-90)`).attr("text-anchor", "middle").style("font-size", "21.5px");
  yl.append("tspan").text("log");
  yl.append("tspan").attr("dy", "0.3em").style("font-size", "15px").text("10");
  yl.append("tspan").attr("dy", "-0.3em").text("(\u0394E)");
  g.append("text").attr("x", R - 1).attr("y", 438).attr("text-anchor", "end").attr("fill", "#333").style("font-size", "8.5px").text(p.off);

  // legend
  const lx = L + 8.3, ly = 303, lw = 113, lh = 99;
  const lg = g.append("g");
  lg.append("rect").attr("x", lx).attr("y", ly).attr("width", lw).attr("height", lh).attr("rx", 3)
    .attr("fill", "#fff").attr("fill-opacity", 0.8).attr("stroke", "#cccccc").attr("stroke-width", 1);
  methods.forEach((m, i) => {
    const ry = 316.3 + i * 23.6;
    lg.append("line").attr("x1", lx + 5).attr("x2", lx + 39.5).attr("y1", ry).attr("y2", ry)
      .attr("stroke", colors[m]).attr("stroke-width", 3.3).attr("stroke-dasharray", meanDash[m]);
    lg.append("text").attr("x", lx + 51.5).attr("y", ry + 6.2).style("font-size", "16px").text(m);
  });
});
</script>
</body></html>
